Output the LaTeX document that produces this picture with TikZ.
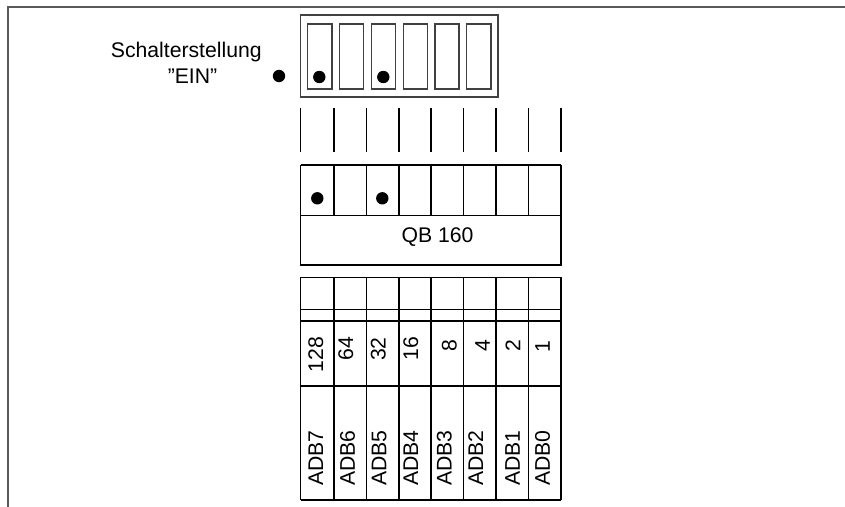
\documentclass[tikz,border=0pt]{standalone}
\usepackage{fontspec}
\setmainfont{Liberation Sans}
\begin{document}
\begin{tikzpicture}[x=0.5pt,y=-0.5pt,
  frame/.style={draw=black!65,line width=1pt},
  grid/.style={draw=black,line width=0.55pt},
  sw/.style={draw=black!75,line width=0.55pt},
  lbl/.style={font=\fontsize{10.6}{12.5}\selectfont,inner sep=0pt},
  vlbl/.style={lbl,rotate=90}]
\useasboundingbox (0,0) rectangle (845,507);
% frame
\draw[frame] (8,507) -- (8,7.5) -- (845,7.5);
% switch block
\draw[sw] (300.7,15) rectangle (498,97);
\foreach \a/\b in {307.7/332,339.7/363.7,371.3/395.7,403.3/427.3,435/459,466.7/491}
  \draw[sw] (\a,24) rectangle (\b,89);
\fill (279,76) circle[radius=3.1pt];
\fill (319.3,77) circle[radius=3.1pt];
\fill (383.3,77) circle[radius=3.1pt];
% ticks
\foreach \x in {300.7,334,366.3,399,431,463.3,496,528.7,561}
  \draw[grid] (\x,108) -- (\x,152);
% dot row and QB box
\draw[grid] (300.7,165) -- (561,165);
\foreach \x in {300.7,334,366.3,399,431,463.3,496,528.7,561}
  \draw[grid] (\x,165) -- (\x,215.7);
\draw[grid] (300.7,215.7) rectangle (561,265);
\fill (317.3,198.3) circle[radius=3.1pt];
\fill (382.3,198.3) circle[radius=3.1pt];
% lower table
\foreach \y in {277.3,309.3,321,386,500}
  \draw[grid] (300.7,\y) -- (561,\y);
\foreach \x in {300.7,334,366.3,399,431,463.3,496,528.7,561}
  \draw[grid] (\x,277.3) -- (\x,500);
% labels
\node[lbl,anchor=base] (s1) at (186.3,57.3) {Schalterstellung};
\node[lbl,anchor=base] (s2) at (192.5,83.3) {”EIN”};
\node[lbl,anchor=base] (qb) at (437.5,242.5) {QB 160};
\foreach \n/\x/\y in {128/315.8/336.5,64/345.8/336.5,32/378.3/337,16/410.8/336.5,8/449.2/339,4/482.5/339,2/513/339,1/542.5/340}
  \node[vlbl,anchor=east] (n\n) at (\x,\y) {\n};
\foreach \t/\x in {ADB7/315.8,ADB6/347.5,ADB5/379.2,ADB4/410.8,ADB3/444.2,ADB2/475.8,ADB1/512.5,ADB0/542.5}
  \node[vlbl,anchor=west] (a\t) at (\x,486) {\t};
\end{tikzpicture}
\end{document}
